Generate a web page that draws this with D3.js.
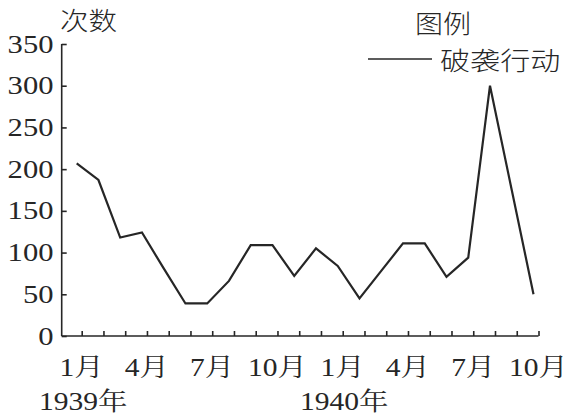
<!DOCTYPE html>
<html>
<head>
<meta charset="utf-8">
<script src="https://cdn.jsdelivr.net/npm/d3@7/dist/d3.min.js"></script>
<style>
  html, body { margin: 0; padding: 0; background: #fff; }
  svg { display: block; }
</style>
</head>
<body>
<div id="chart"></div>
<script>
// ---- data ----
const months = ["1939-01","1939-02","1939-03","1939-04","1939-05","1939-06","1939-07","1939-08","1939-09","1939-10","1939-11","1939-12",
                "1940-01","1940-02","1940-03","1940-04","1940-05","1940-06","1940-07","1940-08","1940-09","1940-10"];
const raids = [207, 187, 118, 124, 81, 39, 39, 66, 109, 109, 72, 105,
               84, 45, 78, 111, 111, 71, 94, 300, 175, 50];
const yTicks = [0, 50, 100, 150, 200, 250, 300, 350];
const xTickLabels = ["1月", "", "", "4月", "", "", "7月", "", "", "10月", "", "",
                     "1月", "", "", "4月", "", "", "7月", "", "", "10月"];
const yearLabels = [{ index: 0, text: "1939年" }, { index: 12, text: "1940年" }];
const yTitle = "次数";
const legendTitle = "图例";
const seriesName = "破袭行动";

// ---- layout ----
const W = 571, H = 418;
const svg = d3.select("#chart").append("svg").attr("width", W).attr("height", H);

const x = d3.scaleLinear().domain([0, months.length - 1]).range([81.7, 538.5]);
const y = d3.scaleLinear().domain([0, 350]).range([336, 44]);
const axisX0 = 61.7;
const ink = "#262626";
const SERIF = '"Liberation Serif", "Noto Serif CJK SC", serif';
const SANS = '"Noto Sans CJK SC", sans-serif';
const SX = 1.18; // horizontal stretch of the original print

function label(g, tx, ty, text, opts) {
  return g.append("text")
    .attr("transform", `translate(${tx},${ty}) scale(${opts.sx || SX},1)`)
    .attr("text-anchor", opts.anchor || "start")
    .style("font-family", opts.family)
    .style("font-size", opts.size + "px")
    .style("font-weight", opts.weight || 400)
    .attr("fill", ink)
    .text(text);
}

// y axis
const yAxis = d3.axisRight(y).tickValues(yTicks).tickSize(5).tickFormat("");
const gy = svg.append("g").attr("transform", `translate(${axisX0},0)`).call(yAxis);
gy.select(".domain").attr("d", `M0,${y(350)}V${y(0)}`);
gy.selectAll("path, line").attr("stroke", ink).attr("stroke-width", 1.6);
yTicks.forEach(v => {
  label(svg, 53.5, y(v) + 8.5, String(v), { anchor: "end", family: SERIF, size: 25.5, sx: 1.2 });
});

// x axis
const xAxis = d3.axisTop(x).tickValues(d3.range(months.length)).tickSize(5).tickFormat("");
const gx = svg.append("g").attr("transform", `translate(0,${y(0)})`).call(xAxis);
gx.select(".domain").attr("d", `M${axisX0},0H${x(months.length - 1)}`);
gx.selectAll("path, line").attr("stroke", ink).attr("stroke-width", 1.6);
xTickLabels.forEach((t, i) => {
  if (t) label(svg, x(i), 376, t, { anchor: "middle", family: SERIF, size: 25 });
});
yearLabels.forEach(d => {
  label(svg, x(d.index) + 1.5, 410, d.text, { anchor: "middle", family: SERIF, size: 25 });
});

// axis title
label(svg, 60, 30, yTitle, { family: SANS, size: 25.5, sx: 1.12, weight: 300 });

// data line (drawn slightly left of the ticks as in the original)
const line = d3.line().x((d, i) => x(i) - 5).y(d => y(d));
svg.append("path")
  .datum(raids)
  .attr("d", line)
  .attr("fill", "none")
  .attr("stroke", ink)
  .attr("stroke-width", 2.2)
  .attr("stroke-linejoin", "miter");

// legend
label(svg, 415, 33, legendTitle, { family: SANS, size: 25, sx: 1.12, weight: 300 });
svg.append("line")
  .attr("x1", 368).attr("x2", 432).attr("y1", 59).attr("y2", 59)
  .attr("stroke", ink).attr("stroke-width", 1.6);
label(svg, 440, 70, seriesName, { family: SANS, size: 25.5, sx: 1.18, weight: 300 });
</script>
</body>
</html>
